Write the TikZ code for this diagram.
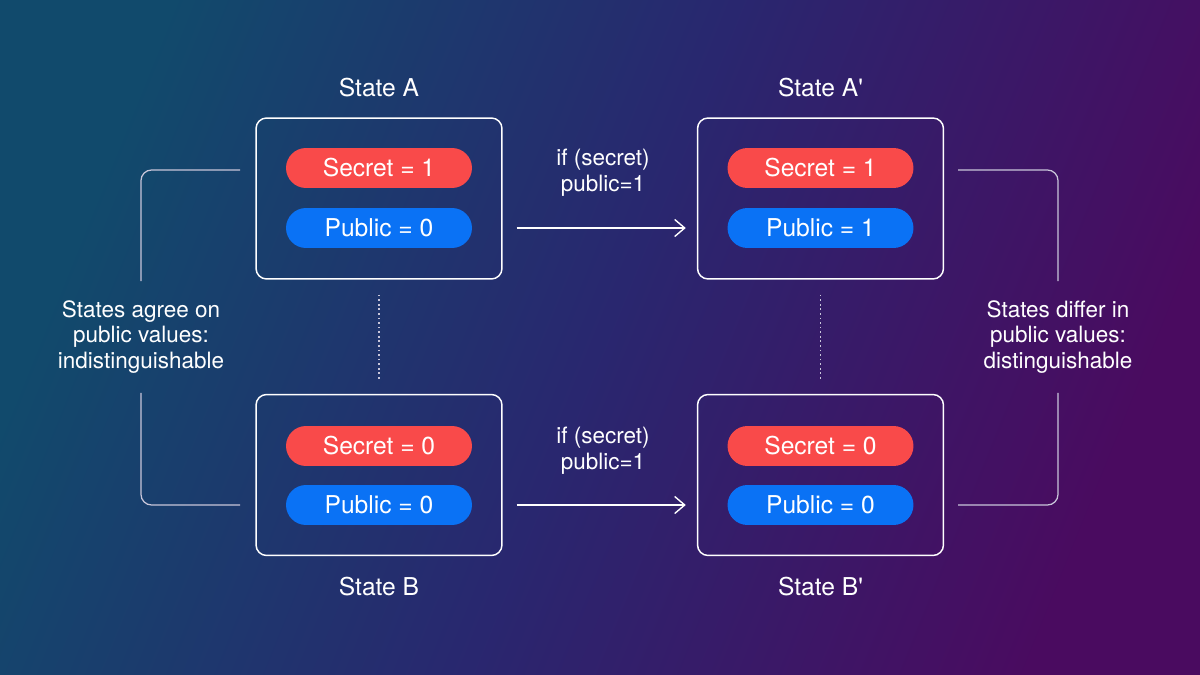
\documentclass[tikz,border=0pt]{standalone}
\usepackage{fontspec}
\setmainfont{TeX Gyre Heros}[Ligatures=TeXOff]
\usepackage{tikz}
\usetikzlibrary{arrows.meta,positioning}
\definecolor{BgTeal}{HTML}{114A6C}
\definecolor{BgMid}{HTML}{29276F}
\definecolor{BgPurple}{HTML}{4A0B60}
\definecolor{SecretRed}{HTML}{F94A4A}
\definecolor{PublicBlue}{HTML}{0A72F5}
\definecolor{LineGrey}{HTML}{C9C6DA}

\begin{document}
\begin{tikzpicture}[
  x=0.02cm, y=-0.02cm,
  statebox/.style={draw=white,line width=0.85pt,rounded corners=6pt,minimum width=4.92cm,minimum height=3.22cm},
  pill/.style={rounded corners=0.4cm,minimum width=3.72cm,minimum height=0.8cm,inner sep=0pt,text=white,font=\fontsize{14}{16}\selectfont},
  secret/.style={pill,fill=SecretRed},
  public/.style={pill,fill=PublicBlue},
  title/.style={text=white,font=\fontsize{14}{16}\selectfont},
  cond/.style={text=white,align=center,font=\fontsize{12.8}{14.7}\selectfont},
  note/.style={text=white,align=center,inner sep=0pt,minimum height=2.22cm,font=\fontsize{12.8}{14.7}\selectfont},
  arrow/.style={-{Straight Barb[length=2mm,width=3.4mm]},line width=0.8pt,color=white,shorten <=0.28cm,shorten >=0.22cm},
  bracket/.style={draw=LineGrey,line width=0.7pt,rounded corners=6pt},
  dots/.style={draw=LineGrey,line width=0.7pt,dash pattern=on 1pt off 1.6pt,shorten <=0.3cm,shorten >=0.3cm}
]
% background
\useasboundingbox (0,0) rectangle (1200,675);
\shade[left color=BgTeal,right color=BgPurple,middle color=BgMid,shading angle=68] (0,0) rectangle (1200,675);

% states
\node[statebox] (boxA) at (379,198.5) {};
\node[statebox] (boxB) at (379,475) {};
\node[statebox] (boxA2) at (820.5,198.5) {};
\node[statebox] (boxB2) at (820.5,475) {};

\node[title,above=0.28cm of boxA] (titleA) {State A};
\node[title,below=0.3cm of boxB] (titleB) {State B};
\node[title,above=0.28cm of boxA2] (titleA2) {State A'};
\node[title,below=0.3cm of boxB2] (titleB2) {State B'};

\node[secret] (secA) at (379,168) {Secret = 1};
\node[public] (pubA) at (379,228) {Public = 0};
\node[secret] (secB) at (379,446) {Secret = 0};
\node[public] (pubB) at (379,505) {Public = 0};
\node[secret] (secA2) at (820.5,168) {Secret = 1};
\node[public] (pubA2) at (820.5,228) {Public = 1};
\node[secret] (secB2) at (820.5,446) {Secret = 0};
\node[public] (pubB2) at (820.5,505) {Public = 0};

% transitions
\node[cond] (condA) at (603,173) {if (secret)\\public=1};
\node[cond] (condB) at (603,451) {if (secret)\\public=1};
\draw[arrow] (boxA.east |- pubA) -- (boxA2.west |- pubA2);
\draw[arrow] (boxB.east |- pubB) -- (boxB2.west |- pubB2);

\draw[dots] (boxA) -- (boxB);
\draw[dots] (boxA2) -- (boxB2);

% comparisons
\node[note] (agree) at (141,337) {States agree on\\public values:\\indistinguishable};
\node[note] (differ) at (1058,337) {States differ in\\public values:\\distinguishable};
\coordinate (agreeTop) at (240,170);
\coordinate (agreeBot) at (240,505);
\coordinate (differTop) at (958,170);
\coordinate (differBot) at (958,505);
\draw[bracket] (agreeTop) -| (agree.north);
\draw[bracket] (agreeBot) -| (agree.south);
\draw[bracket] (differTop) -| (differ.north);
\draw[bracket] (differBot) -| (differ.south);
\end{tikzpicture}
\end{document}
